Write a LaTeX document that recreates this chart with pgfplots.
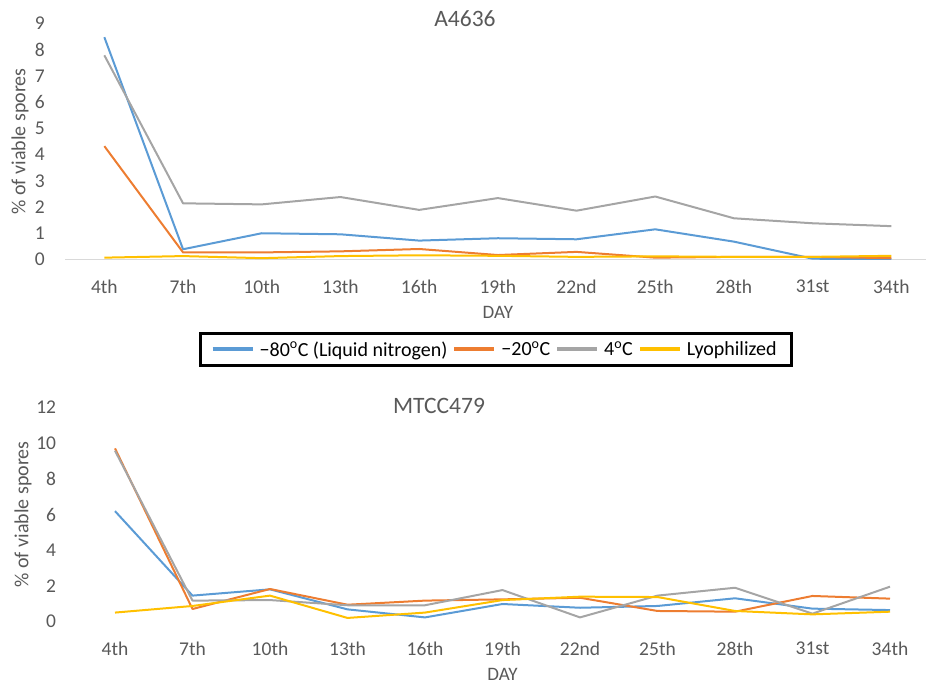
\documentclass[border=0pt]{standalone}
\usepackage{fontspec}
\setmainfont{Carlito}
\usepackage{pgfplots}
\pgfplotsset{compat=1.18}
\definecolor{cblue}{HTML}{5B9BD5}
\definecolor{corange}{HTML}{ED7D31}
\definecolor{cgray}{HTML}{A5A5A5}
\definecolor{cyellow}{HTML}{FFC000}
\definecolor{txt}{HTML}{595959}
\definecolor{axl}{HTML}{D9D9D9}
\pgfplotsset{
  common/.style={
    scale only axis,
    xmin=-0.5, xmax=10.5,
    xtick={0,...,10},
    xticklabels={4th,7th,10th,13th,16th,19th,22nd,25th,28th,31st,34th},
    /pgf/number format/assume math mode=true,
    tick style={draw=none},
    major tick length=0pt,
    separate axis lines,
    axis y line*=left,
    y axis line style={draw=none},
    xticklabel style={font=\fontsize{19.5}{22}\selectfont, text=txt, inner sep=0pt, anchor=north, yshift=-20pt},
    yticklabel style={font=\fontsize{19.5}{22}\selectfont, text=txt, inner sep=0pt, anchor=east, xshift=-20pt},
    xlabel={DAY},
    xlabel style={font=\fontsize{19}{22}\selectfont, text=txt, inner sep=0pt, at={(axis description cs:0.5,0)}, anchor=center, yshift=-53pt},
    ylabel={\% of viable spores},
    title style={font=\fontsize{23.5}{26}\selectfont, text=txt, inner sep=0pt, anchor=center},
    every axis plot/.append style={line width=2pt, line join=round},
  }
}
\begin{document}
\begin{tikzpicture}
\useasboundingbox (0pt,0pt) rectangle (926pt,684pt);
% top axis
\begin{axis}[common,
  at={(65pt,424.5pt)}, anchor=south west,
  width=865.7pt, height=236.2pt,
  ymin=0, ymax=9, ytick={0,1,...,9},
  axis x line*=bottom,
  x axis line style={draw=axl, line width=1.2pt, -},
  ylabel style={font=\fontsize{20}{22}\selectfont, text=txt, inner sep=0pt, at={(axis description cs:-0.052,0.5)}, anchor=center},
  title={A4636},
  title style={at={(axis description cs:0.462,0.993)}},
  legend columns=4,
  legend style={at={(axis description cs:0.498,-0.381)}, anchor=center,
    draw=black, line width=3pt, inner xsep=10pt, inner ysep=4.5pt,
    font=\fontsize{20}{22}\selectfont, text=black,
    nodes={inner xsep=5pt, inner ysep=3pt}},
  legend image code/.code={\draw[line width=4pt] (0pt,0pt) -- (40pt,0pt);},
]
\addplot[cblue] coordinates {(0,8.47) (1,0.39) (2,1.00) (3,0.96) (4,0.72) (5,0.81) (6,0.77) (7,1.15) (8,0.68) (9,0.03) (10,0.01)};
\addlegendentry{−80\textsuperscript{o}C (Liquid nitrogen)}
\addplot[corange] coordinates {(0,4.32) (1,0.27) (2,0.27) (3,0.31) (4,0.40) (5,0.17) (6,0.29) (7,0.07) (8,0.10) (9,0.10) (10,0.05)};
\addlegendentry{−20\textsuperscript{o}C}
\addplot[cgray] coordinates {(0,7.78) (1,2.14) (2,2.10) (3,2.38) (4,1.89) (5,2.34) (6,1.86) (7,2.40) (8,1.57) (9,1.38) (10,1.27)};
\addlegendentry{4\textsuperscript{o}C}
\addplot[cyellow] coordinates {(0,0.07) (1,0.13) (2,0.05) (3,0.13) (4,0.16) (5,0.14) (6,0.10) (7,0.12) (8,0.10) (9,0.10) (10,0.14)};
\addlegendentry{Lyophilized}
\end{axis}
% bottom axis
\begin{axis}[common,
  at={(76.25pt,62.3pt)}, anchor=south west,
  width=852.5pt, height=214.4pt,
  ymin=0, ymax=12, ytick={0,2,...,12},
  axis x line*=bottom,
  x axis line style={draw=none},
  ylabel style={font=\fontsize{20}{22}\selectfont, text=txt, inner sep=0pt, at={(axis description cs:-0.0625,0.5)}, anchor=center},
  title={MTCC479},
  title style={at={(axis description cs:0.4255,0.979)}},
]
\addplot[cblue] coordinates {(0,6.19) (1,1.46) (2,1.81) (3,0.69) (4,0.24) (5,0.99) (6,0.78) (7,0.88) (8,1.31) (9,0.73) (10,0.65)};
\addplot[corange] coordinates {(0,9.70) (1,0.71) (2,1.83) (3,0.95) (4,1.18) (5,1.25) (6,1.34) (7,0.60) (8,0.56) (9,1.44) (10,1.29)};
\addplot[cgray] coordinates {(0,9.57) (1,1.18) (2,1.21) (3,0.92) (4,0.92) (5,1.77) (6,0.24) (7,1.46) (8,1.90) (9,0.45) (10,1.96)};
\addplot[cyellow] coordinates {(0,0.51) (1,0.88) (2,1.46) (3,0.21) (4,0.51) (5,1.21) (6,1.40) (7,1.38) (8,0.60) (9,0.41) (10,0.56)};
\end{axis}
\end{tikzpicture}
\end{document}
